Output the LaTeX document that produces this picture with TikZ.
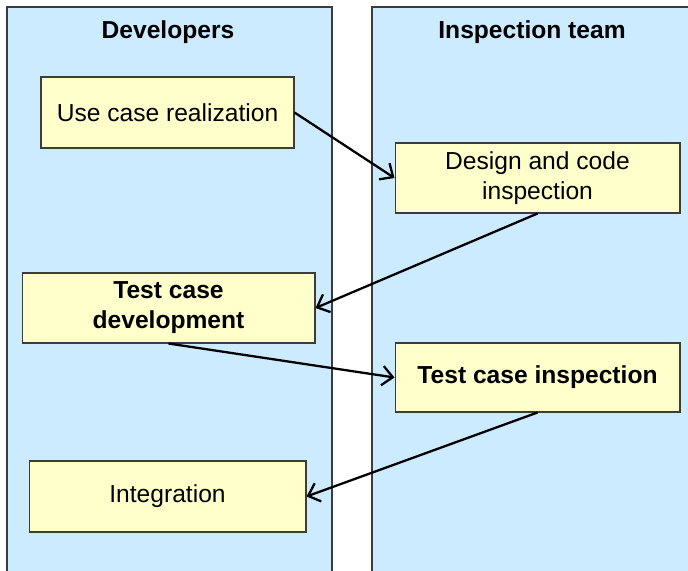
\documentclass[tikz,border=0pt]{standalone}
\usepackage{fontspec}
\setmainfont{Liberation Sans}
\usepackage{tikz}
\usetikzlibrary{arrows.meta}
\definecolor{laneblue}{RGB}{204, 235, 255}
\definecolor{boxyellow}{RGB}{255, 255, 204}
\definecolor{edgegray}{RGB}{60, 60, 60}

\begin{document}
\begin{tikzpicture}[x=0.02cm, y=-0.02cm,
  font=\fontsize{14}{17}\selectfont,
  lane/.style={draw=edgegray, fill=laneblue, line width=0.6pt},
  activity/.style={draw=edgegray, fill=boxyellow, line width=0.6pt, align=center, inner sep=2pt},
  flow/.style={-{Straight Barb[length=6pt, width=11pt]}, line width=1.3pt}]
\useasboundingbox (0,0) rectangle (688,570);
\clip (0,0) rectangle (688,570);

% Swimlanes
\draw[lane] (7,7) rectangle (332,580);
\draw[lane] (372,7) rectangle (700,580);
\node[font=\fontsize{14}{17}\selectfont\bfseries] (devtitle) at (168,32.5) {Developers};
\node[font=\fontsize{14}{17}\selectfont\bfseries] (insptitle) at (532,32.5) {Inspection team};

% Activities
\node[activity, minimum width=5.06cm, minimum height=1.42cm] (ucr) at (167.5,112.5) {\raisebox{-1pt}{Use case realization}};
\node[activity, minimum width=5.70cm, minimum height=1.40cm] (dci) at (537.5,178) {Design and code\\inspection};
\node[activity, minimum width=5.86cm, minimum height=1.40cm, font=\fontsize{14}{17}\selectfont\bfseries] (tcd) at (168.5,308) {Test case\\development};
\node[activity, minimum width=5.70cm, minimum height=1.38cm, font=\fontsize{14}{17}\selectfont\bfseries] (tci) at (537.5,377.5) {\raisebox{-1pt}{Test case inspection}};
\node[activity, minimum width=5.54cm, minimum height=1.42cm] (integ) at (167.5,496.5) {\raisebox{-1pt}{Integration}};

% Hand-offs between the teams
\draw[flow] (ucr.east) -- (dci.west);
\draw[flow] (dci.south) -- (tcd.east);
\draw[flow] (tcd.south) -- (tci.west);
\draw[flow] (tci.south) -- (integ.east);
\end{tikzpicture}
\end{document}
